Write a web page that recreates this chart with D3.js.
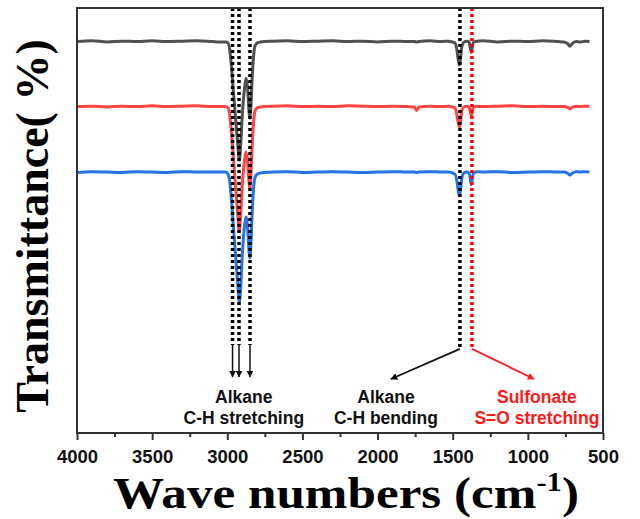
<!DOCTYPE html>
<html>
<head>
<meta charset="utf-8">
<script src="https://d3js.org/d3.v7.min.js"></script>
<style>
    body { margin: 0; background: #fff; }
    .axis text { font-family: "Liberation Sans", Arial, sans-serif; font-weight: bold; font-size: 18.5px; fill: #111; }
    .axis line { stroke: #333; stroke-width: 2; }
    .axis path { display: none; }
    .spec { fill: none; stroke-width: 3; stroke-linejoin: round; }
    .note { font-family: "Liberation Sans", Arial, sans-serif; font-weight: bold; font-size: 17.5px; text-anchor: middle; }
    .title { font-family: "Liberation Serif", "Times New Roman", serif; font-weight: bold; fill: #000; }
</style>
</head>
<body>
<div id="plot"></div>
<script>
// wave numbers (cm-1), shared by the three spectra
var wn = [4000, 3900, 3800, 3700, 3600, 3500, 3400, 3300, 3200, 3100,
    3050, 3010, 2995, 2985, 2975, 2960, 2945, 2930, 2920, 2912,
    2900, 2885, 2875, 2865, 2855, 2850, 2843, 2835, 2825, 2815,
    2800, 2780, 2700, 2600, 2500, 2400, 2300, 2200, 2100, 2000,
    1900, 1800, 1755, 1740, 1725, 1650, 1580, 1530, 1485, 1472,
    1462, 1455, 1448, 1438, 1425, 1405, 1392, 1384, 1376, 1369,
    1360, 1340, 1300, 1200, 1100, 1000, 900, 800, 760, 735,
    720, 705, 680, 650, 620, 590];

// transmittance (a.u., stacked)
var grey = [92.1, 92.3, 92.0, 92.2, 92.1, 92.3, 92.1, 92.2, 92.3, 92.1,
    92.0, 92.0, 91.8, 90.4, 87.3, 80.7, 74.1, 67.8, 64.2, 67.1,
    74.8, 81.2, 83.5, 81.2, 75.5, 74.1, 76.9, 83.1, 88.7, 91.1,
    91.8, 92.0, 92.2, 92.3, 92.1, 92.2, 92.3, 92.1, 92.2, 92.0,
    92.2, 92.1, 92.1, 92.0, 92.1, 92.3, 92.1, 92.2, 91.8, 90.1,
    87.5, 86.6, 88.2, 91.1, 92.0, 92.2, 92.0, 90.8, 89.6, 91.1,
    92.0, 92.2, 92.3, 92.0, 92.2, 92.1, 92.3, 92.1, 92.0, 91.6,
    91.0, 91.6, 92.1, 92.0, 92.2, 92.1];

var red = [76.8, 76.9, 76.7, 76.9, 76.8, 77.0, 76.8, 76.9, 77.0, 76.8,
    76.8, 76.8, 76.5, 75.1, 71.8, 65.2, 57.9, 51.3, 47.5, 50.6,
    58.4, 64.2, 66.1, 63.8, 58.8, 57.6, 60.5, 67.1, 73.2, 75.8,
    76.5, 76.7, 76.9, 77.0, 76.8, 76.9, 76.8, 77.0, 76.9, 76.8,
    76.9, 76.8, 76.7, 75.9, 76.7, 76.9, 76.8, 76.9, 76.5, 74.8,
    72.7, 72.0, 73.4, 76.0, 76.7, 76.9, 76.7, 75.8, 74.6, 76.0,
    76.7, 76.9, 76.8, 76.9, 77.0, 76.8, 76.9, 76.8, 76.8, 76.6,
    76.3, 76.6, 76.9, 76.8, 76.9, 76.9];

var blue = [61.3, 61.5, 61.4, 61.3, 61.5, 61.4, 61.3, 61.5, 61.4, 61.4,
    61.4, 61.4, 60.9, 59.5, 56.0, 48.9, 41.9, 34.8, 30.8, 33.6,
    41.9, 48.9, 50.8, 48.2, 42.6, 41.2, 44.2, 51.3, 57.6, 60.2,
    60.9, 61.2, 61.4, 61.5, 61.3, 61.4, 61.5, 61.4, 61.3, 61.4,
    61.5, 61.4, 61.4, 61.3, 61.4, 61.5, 61.4, 61.4, 60.9, 59.3,
    56.7, 55.8, 57.4, 60.2, 61.2, 61.4, 61.2, 60.0, 58.4, 60.0,
    61.2, 61.5, 61.4, 61.5, 61.3, 61.4, 61.5, 61.4, 61.4, 61.1,
    60.7, 61.1, 61.5, 61.4, 61.5, 61.4];

var majorTicks = [4000, 3500, 3000, 2500, 2000, 1500, 1000, 500];
var minorTicks = [3750, 3250, 2750, 2250, 1750, 1250, 750];

// band markers
var stretchBands = [2965, 2922, 2849];
var bendBand = 1452;
var sulfoBand = 1372;

function zip_data(xData, yData) {
    var data = [];
    for (var i = 0; i < xData.length; i++) {
        data.push({wn: xData[i], t: yData[i]});
    }
    return data;
}

function plot_ftir() {
    var width = 640,
        height = 519,
        margin = {left: 77, top: 8, right: 37, bottom: 86},
        g_width = width - margin.left - margin.right,
        g_height = height - margin.top - margin.bottom;

    var svg = d3.select("#plot")
        .append("svg")
        .attr("width", width)
        .attr("height", height);

    var defs = svg.append("defs");
    [["arrowK", "#111"], ["arrowR", "#ff2020"]].forEach(function (m) {
        defs.append("marker")
            .attr("id", m[0])
            .attr("viewBox", "0 0 10 10")
            .attr("refX", 9).attr("refY", 5)
            .attr("markerWidth", 7).attr("markerHeight", 7)
            .attr("markerUnits", "userSpaceOnUse")
            .attr("orient", "auto")
            .append("path")
            .attr("d", "M0,0 L10,5 L0,10 z")
            .attr("fill", m[1]);
    });

    var xScale = d3.scaleLinear()
        .domain([4000, 500])
        .range([margin.left, margin.left + g_width]);

    var yScale = d3.scaleLinear()
        .domain([0, 100])
        .range([margin.top + g_height, margin.top]);

    var line = d3.line()
        .curve(d3.curveMonotoneX)
        .x(function (d) { return xScale(d.wn); })
        .y(function (d) { return yScale(d.t); });

    // spectra
    var series = [[grey, "#505050"], [red, "#ff4444"], [blue, "#2474e6"]];
    series.forEach(function (s) {
        svg.append("path")
            .attr("class", "spec")
            .attr("stroke", s[1])
            .attr("d", line(zip_data(wn, s[0])));
    });

    // dotted band lines
    var yTop = 100, yEnd = 20.7, yArrow = 13.2;
    stretchBands.forEach(function (b) {
        svg.append("line")
            .attr("x1", xScale(b)).attr("x2", xScale(b))
            .attr("y1", yScale(yTop)).attr("y2", yScale(yEnd))
            .attr("stroke", "#000").attr("stroke-width", 3.5)
            .attr("stroke-dasharray", "3,3");
        svg.append("line")
            .attr("x1", xScale(b)).attr("x2", xScale(b))
            .attr("y1", yScale(yEnd)).attr("y2", yScale(yArrow))
            .attr("stroke", "#111").attr("stroke-width", 1.5)
            .attr("marker-end", "url(#arrowK)");
    });

    [[bendBand, "#000", "#111", 1911, "arrowK"], [sulfoBand, "#ff0000", "#ff2020", 959, "arrowR"]].forEach(function (b) {
        svg.append("line")
            .attr("x1", xScale(b[0])).attr("x2", xScale(b[0]))
            .attr("y1", yScale(yTop)).attr("y2", yScale(19.8))
            .attr("stroke", b[1]).attr("stroke-width", 3.5)
            .attr("stroke-dasharray", "3,3");
        svg.append("line")
            .attr("x1", xScale(b[0])).attr("x2", xScale(b[3]))
            .attr("y1", yScale(19.8)).attr("y2", yScale(12.7))
            .attr("stroke", b[2]).attr("stroke-width", 1.8)
            .attr("marker-end", "url(#" + b[4] + ")");
    });

    // annotations
    var notes = [
        [2890, ["Alkane", "C-H stretching"], "#111"],
        [1944, ["Alkane", "C-H bending"], "#111"],
        [940, ["Sulfonate", "S=O stretching"], "#ff1a1a"]
    ];
    notes.forEach(function (n) {
        n[1].forEach(function (t, i) {
            svg.append("text")
                .attr("class", "note")
                .attr("x", xScale(n[0]))
                .attr("y", yScale(7.1) + i * 21)
                .attr("fill", n[2])
                .text(t);
        });
    });

    // frame
    svg.append("rect")
        .attr("x", margin.left).attr("y", margin.top)
        .attr("width", g_width).attr("height", g_height)
        .attr("fill", "none")
        .attr("stroke", "#333").attr("stroke-width", 2);

    // x axis
    var xAxis = d3.axisBottom(xScale)
        .tickValues(majorTicks)
        .tickSizeInner(7)
        .tickSizeOuter(0)
        .tickPadding(10)
        .tickFormat(d3.format("d"));

    svg.append("g")
        .attr("class", "axis")
        .attr("transform", "translate(0," + (margin.top + g_height) + ")")
        .call(xAxis);

    var minor = svg.append("g")
        .attr("class", "axis")
        .attr("transform", "translate(0," + (margin.top + g_height) + ")")
        .call(d3.axisBottom(xScale).tickValues(minorTicks).tickSize(4).tickFormat(""));
    minor.selectAll("text").remove();

    // axis titles
    var xt = svg.append("text")
        .attr("class", "title")
        .attr("transform", "translate(" + (margin.left + g_width / 2 + 6) + ",508) scale(1.137,1)")
        .attr("text-anchor", "middle")
        .style("font-size", "45px");
    xt.append("tspan").text("Wave numbers (cm");
    xt.append("tspan").attr("dy", -17).style("font-size", "27px").text("-1");
    xt.append("tspan").attr("dy", 17).text(")");

    svg.append("text")
        .attr("class", "title")
        .attr("transform", "translate(48,226) rotate(-90)")
        .attr("text-anchor", "middle")
        .style("font-size", "46px")
        .text("Transmittance( %)");
}

plot_ftir();
</script>
</body>
</html>
